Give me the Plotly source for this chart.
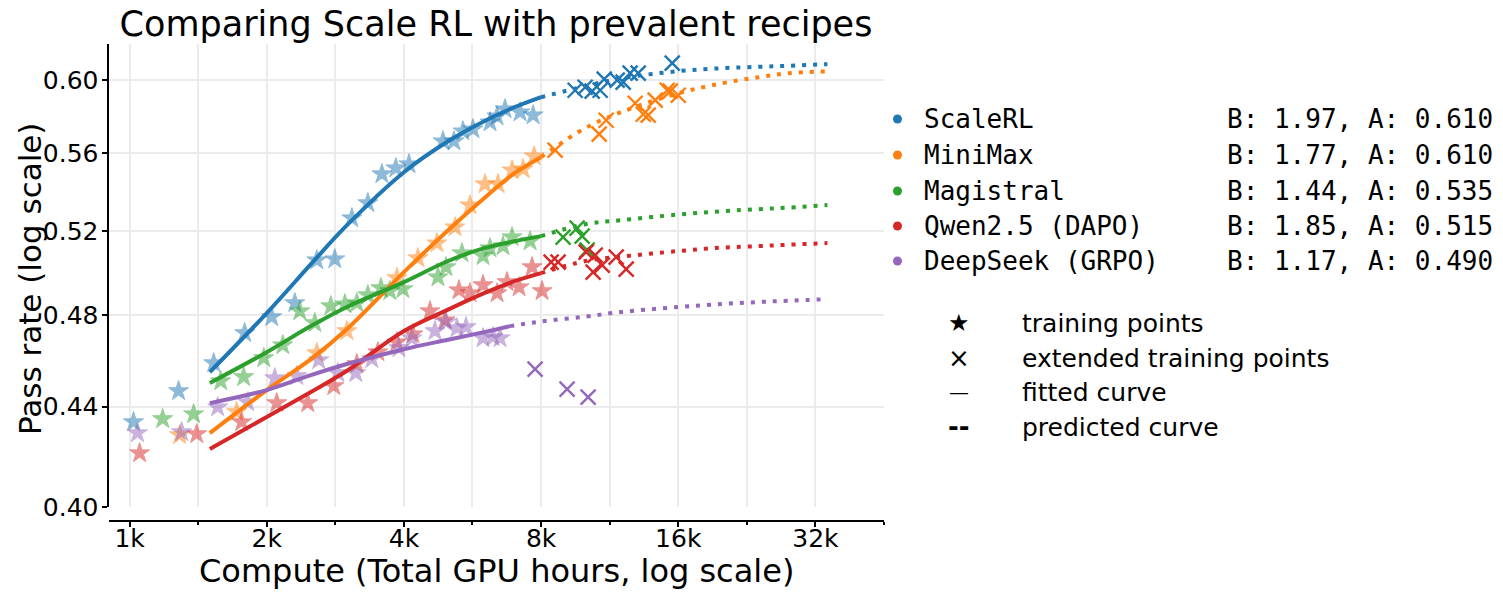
import math
import plotly.graph_objects as go

W, H = 1503, 596

# ---------------- data ----------------
series_names = ["ScaleRL", "MiniMax", "Magistral", "Qwen2.5 (DAPO)", "DeepSeek (GRPO)"]
series_colors = ["#1f77b4", "#ff7f0e", "#2ca02c", "#d62728", "#9467bd"]
fit_labels = ["B: 1.97, A: 0.610", "B: 1.77, A: 0.610", "B: 1.44, A: 0.535",
              "B: 1.85, A: 0.515", "B: 1.17, A: 0.490"]

# training points (stars)
scalerl_train_x = [1020, 1281, 1530, 1789, 2051, 2305, 2576, 2821, 3075, 3334, 3579, 3841, 4103,
                   4873, 5151, 5391, 5671, 6181, 6404, 6668, 7194, 7684]
scalerl_train_y = [0.4336, 0.4466, 0.4586, 0.4719, 0.4791, 0.4855, 0.5057, 0.5062, 0.5263, 0.5339,
                   0.5488, 0.5519, 0.5540, 0.5662, 0.5662, 0.5716, 0.5727, 0.5765, 0.5798, 0.5837,
                   0.5820, 0.5804]
minimax_train_x = [1288, 1718, 2576, 2998, 3861, 4294, 4727, 5178, 5586, 6027, 6437, 6909, 7304, 7723]
minimax_train_y = [0.4283, 0.4378, 0.4630, 0.4728, 0.4972, 0.5067, 0.5139, 0.5218, 0.5328, 0.5436,
                   0.5436, 0.5508, 0.5514, 0.5582]
magistral_train_x = [1182, 1382, 1585, 1780, 1970, 2169, 2364, 2550, 2765, 2968, 3153, 3334, 3561,
                     3726, 3980, 4751, 4947, 5364, 5967, 6181, 6601, 6909, 7568]
magistral_train_y = [0.4349, 0.4369, 0.4508, 0.4526, 0.4608, 0.4665, 0.4818, 0.4764, 0.4841, 0.4850,
                     0.4855, 0.4892, 0.4925, 0.4911, 0.4920, 0.4976, 0.5024, 0.5091, 0.5077, 0.5115,
                     0.5125, 0.5169, 0.5149]
qwen_train_x = [1052, 1404, 1762, 2104, 2461, 2807, 3153, 3507, 3861, 4186, 4563, 4923, 5283, 5586,
                5967, 6404, 6736, 7158, 7645, 8041]
qwen_train_y = [0.4210, 0.4287, 0.4336, 0.4415, 0.4415, 0.4487, 0.4582, 0.4634, 0.4678, 0.4714,
                0.4818, 0.4777, 0.4915, 0.4901, 0.4939, 0.4901, 0.4953, 0.4929, 0.5024, 0.4911]
deepseek_train_x = [1041, 1301, 1561, 1817, 2083, 2328, 2602, 2864, 3137, 3402, 3900, 4165, 4680,
                    4947, 5230, 5474, 5967, 6276, 6502]
deepseek_train_y = [0.4291, 0.4295, 0.4398, 0.4419, 0.4521, 0.4530, 0.4599, 0.4543, 0.4543, 0.4604,
                    0.4652, 0.4696, 0.4728, 0.4768, 0.4741, 0.4746, 0.4696, 0.4701, 0.4696]

# extended training points (crosses)
scalerl_ext_x = [9503, 9996, 10356, 10784, 11004, 11752, 12114, 12549, 13068, 15520]
scalerl_ext_y = [0.5943, 0.5960, 0.5938, 0.5943, 0.6006, 0.6000, 0.5989, 0.6040, 0.6040, 0.6098]
minimax_ext_x = [8587, 10729, 11116, 12871, 13403, 13747, 14243, 15133, 15364, 16000]
minimax_ext_y = [0.5614, 0.5700, 0.5776, 0.5870, 0.5809, 0.5804, 0.5887, 0.5943, 0.5938, 0.5915]
magistral_ext_x = [8942, 9599, 9845, 10097]
magistral_ext_y = [0.5169, 0.5213, 0.5174, 0.5106]
qwen_ext_x = [8415, 8719, 10046, 10514, 10408, 10893, 11693, 12299]
qwen_ext_y = [0.5048, 0.5048, 0.5096, 0.5081, 0.5000, 0.5033, 0.5072, 0.5014]
deepseek_ext_x = [7762, 9125, 10148]
deepseek_ext_y = [0.4560, 0.4474, 0.4440]

# fitted curves (solid) and predicted curves (dotted)
fit_x = [1500, 2000, 2500, 3000, 4000, 5000, 6000, 7000, 8000]
pred_x = [8000, 10000, 12000, 16000, 20000, 24000, 28000, 34000]
scalerl_fit_y = [0.4547, 0.4809, 0.5038, 0.5228, 0.5498, 0.5662, 0.5771, 0.5848, 0.5904]
scalerl_pred_y = [0.5904, 0.5966, 0.6011, 0.6052, 0.6069, 0.6077, 0.6083, 0.6092]
minimax_fit_y = [0.4291, 0.4470, 0.4603, 0.4737, 0.5000, 0.5203, 0.5364, 0.5493, 0.5577]
minimax_pred_y = [0.5577, 0.5733, 0.5821, 0.5926, 0.5983, 0.6017, 0.6040, 0.6051]
magistral_fit_y = [0.4500, 0.4634, 0.4750, 0.4837, 0.4953, 0.5053, 0.5115, 0.5149, 0.5174]
magistral_pred_y = [0.5174, 0.5233, 0.5253, 0.5281, 0.5298, 0.5308, 0.5316, 0.5329]
qwen_fit_y = [0.4227, 0.4357, 0.4462, 0.4553, 0.4728, 0.4825, 0.4901, 0.4957, 0.4995]
qwen_pred_y = [0.4995, 0.5053, 0.5074, 0.5101, 0.5118, 0.5125, 0.5132, 0.5140]
deepseek_fit_x = [1500, 2000, 2500, 3000, 4000, 5000, 6000, 6840]
deepseek_fit_y = [0.4415, 0.4470, 0.4534, 0.4582, 0.4647, 0.4689, 0.4723, 0.4750]
deepseek_pred_x = [6840, 8000, 10000, 12000, 16000, 20000, 24000, 28000, 34000]
deepseek_pred_y = [0.4750, 0.4771, 0.4793, 0.4814, 0.4837, 0.4851, 0.4860, 0.4866, 0.4873]

x_tick_vals = [1000, 2000, 4000, 8000, 16000, 32000]
x_tick_text = ["1k", "2k", "4k", "8k", "16k", "32k"]
x_minor_vals = [1414.2, 2828.4, 5656.9, 11313.7, 22627.4, 45254.8]
y_tick_vals = [0.40, 0.44, 0.48, 0.52, 0.56, 0.60]
y_tick_text = ["0.40", "0.44", "0.48", "0.52", "0.56", "0.60"]

marker_legend = [("★", "training points"), ("×", "extended training points"),
                 ("—", "fitted curve"), ("--", "predicted curve")]

train = [(scalerl_train_x, scalerl_train_y), (minimax_train_x, minimax_train_y),
         (magistral_train_x, magistral_train_y), (qwen_train_x, qwen_train_y),
         (deepseek_train_x, deepseek_train_y)]
ext = [(scalerl_ext_x, scalerl_ext_y), (minimax_ext_x, minimax_ext_y),
       (magistral_ext_x, magistral_ext_y), (qwen_ext_x, qwen_ext_y),
       (deepseek_ext_x, deepseek_ext_y)]
fits = [(fit_x, scalerl_fit_y), (fit_x, minimax_fit_y), (fit_x, magistral_fit_y),
        (fit_x, qwen_fit_y), (deepseek_fit_x, deepseek_fit_y)]
preds = [(pred_x, scalerl_pred_y), (pred_x, minimax_pred_y), (pred_x, magistral_pred_y),
         (pred_x, qwen_pred_y), (deepseek_pred_x, deepseek_pred_y)]

# ---------------- figure ----------------
SANS = "DejaVu Sans"
MONO = "DejaVu Sans Mono"
GRID = "#ebebeb"

def fx(p):
    return p / W

def fy(p):
    return 1 - p / H

fig = go.Figure()

for (tx, ty), c in zip(train, series_colors):
    fig.add_trace(go.Scatter(x=tx, y=ty, mode="markers", showlegend=False,
                             marker=dict(symbol="star", size=15, color=c, opacity=0.5,
                                         line=dict(color=c, width=1))))
for (ex, ey), c in zip(ext, series_colors):
    fig.add_trace(go.Scatter(x=ex, y=ey, mode="markers", showlegend=False,
                             marker=dict(symbol="x-thin", size=15, color=c,
                                         line=dict(color=c, width=2.4))))
for (px_, py_), c in zip(fits, series_colors):
    fig.add_trace(go.Scatter(x=px_, y=py_, mode="lines", showlegend=False,
                             line=dict(color=c, width=4, shape="spline")))
for (px_, py_), c in zip(preds, series_colors):
    fig.add_trace(go.Scatter(x=px_, y=py_, mode="lines", showlegend=False,
                             line=dict(color=c, width=4, dash="4px,7px", shape="spline")))

annotations = []
shapes = []

# series legend
leg_rows = [119, 155, 191, 226, 261]
for name, lab, c, ry in zip(series_names, fit_labels, series_colors, leg_rows):
    shapes.append(dict(type="circle", xref="paper", yref="paper",
                       x0=fx(893), x1=fx(902), y0=fy(ry + 4.5), y1=fy(ry - 4.5),
                       fillcolor=c, line=dict(width=0)))
    annotations.append(dict(text=name, x=fx(922), y=fy(ry), xref="paper", yref="paper",
                            xanchor="left", yanchor="middle", showarrow=False,
                            font=dict(family=MONO, size=26, color="black")))
    annotations.append(dict(text=lab, x=fx(1225), y=fy(ry), xref="paper", yref="paper",
                            xanchor="left", yanchor="middle", showarrow=False,
                            font=dict(family=MONO, size=26, color="black")))

# marker legend
m_rows = [323, 358, 392, 427]
m_sizes = [24, 26, 20, 26]
for (sym, lab), ry, sz in zip(marker_legend, m_rows, m_sizes):
    sym_txt = "<b>--</b>" if sym == "--" else sym
    annotations.append(dict(text=sym_txt, x=fx(959), y=fy(ry), xref="paper", yref="paper",
                            xanchor="center", yanchor="middle", showarrow=False,
                            font=dict(family=SANS, size=sz, color="black")))
    annotations.append(dict(text=lab, x=fx(1020), y=fy(ry), xref="paper", yref="paper",
                            xanchor="left", yanchor="middle", showarrow=False,
                            font=dict(family=SANS, size=25, color="black")))

# axis titles
annotations.append(dict(text="Compute (Total GPU hours, log scale)", x=fx(496), y=fy(571),
                        xref="paper", yref="paper", xanchor="center", yanchor="middle",
                        showarrow=False, font=dict(family=SANS, size=32, color="black")))
annotations.append(dict(text="Pass rate (log scale)", x=fx(30), y=fy(279), textangle=-90,
                        xref="paper", yref="paper", xanchor="center", yanchor="middle",
                        showarrow=False, font=dict(family=SANS, size=31, color="black")))

fig.update_layout(
    width=W, height=H,
    margin=dict(l=0, r=0, t=0, b=0, pad=0, autoexpand=False),
    paper_bgcolor="white", plot_bgcolor="white",
    font=dict(family=SANS, color="black"),
    title=dict(text="Comparing Scale RL with prevalent recipes", x=fx(496), y=fy(24),
               xref="paper", yref="paper", xanchor="center", yanchor="middle",
               automargin=False,
               font=dict(family=SANS, size=35, color="black")),
    xaxis=dict(type="log", domain=[fx(108.5), fx(884)],
               range=[math.log10(899), math.log10(45255)],
               anchor="free", position=fy(521), automargin=False,
               showline=True, linecolor="black", linewidth=2,
               ticks="outside", ticklen=5, tickwidth=2, tickcolor="black",
               ticklabelstandoff=-10,
               tickvals=x_tick_vals, ticktext=x_tick_text,
               tickfont=dict(family=SANS, size=25, color="black"),
               showgrid=True, gridcolor=GRID, gridwidth=2, zeroline=False,
               minor=dict(tickvals=x_minor_vals, ticks="outside", ticklen=3, tickwidth=2,
                          tickcolor="black", showgrid=True, gridcolor=GRID, gridwidth=2)),
    yaxis=dict(type="log", domain=[fy(507), fy(44)],
               range=[math.log10(0.40), math.log10(0.621)], automargin=False,
               showline=True, linecolor="black", linewidth=2,
               ticks="outside", ticklen=5, tickwidth=2, tickcolor="black",
               ticklabelstandoff=-2,
               tickvals=y_tick_vals, ticktext=y_tick_text,
               tickfont=dict(family=SANS, size=25, color="black"),
               showgrid=True, gridcolor=GRID, gridwidth=2, zeroline=False),
    annotations=annotations,
    shapes=shapes,
)

fig.write_html("out.html")
